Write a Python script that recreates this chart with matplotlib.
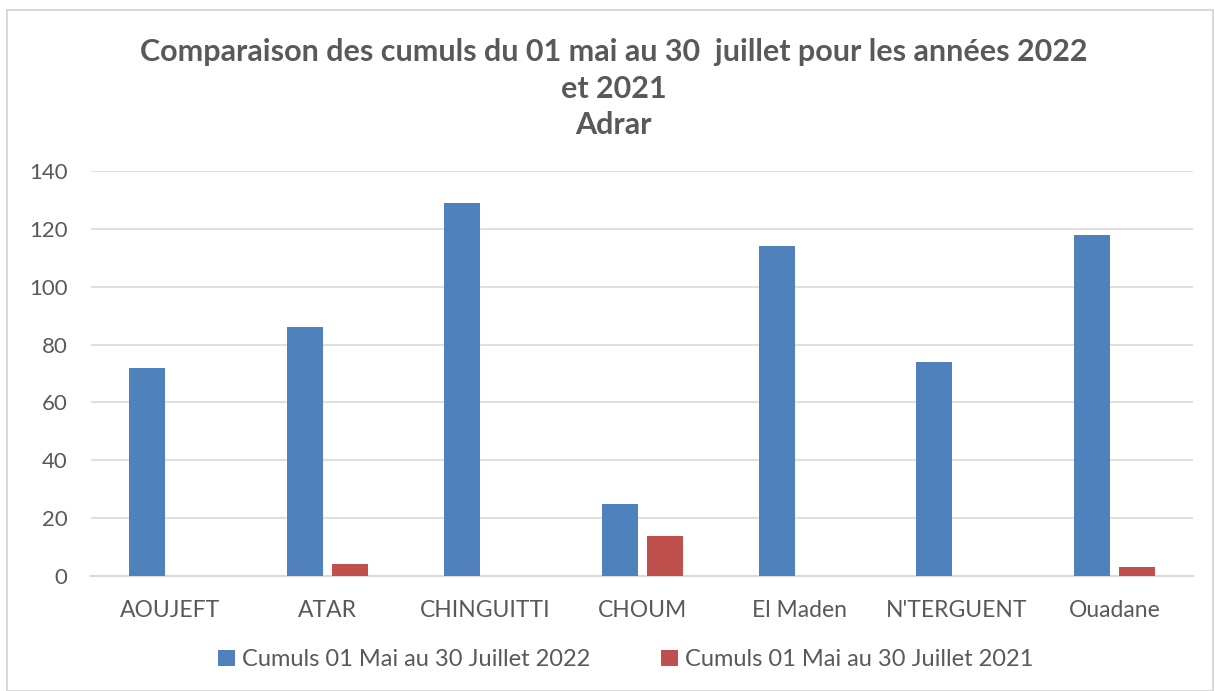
import numpy as np
import matplotlib
matplotlib.use("Agg")
import matplotlib.pyplot as plt
from matplotlib.patches import Rectangle

plt.rcParams['font.family'] = ['Lato', 'DejaVu Sans']

stations = ["AOUJEFT", "ATAR", "CHINGUITTI", "CHOUM", "El Maden", "N'TERGUENT", "Ouadane"]
cumul_2022 = [72, 86, 129, 25, 114, 74, 118]
cumul_2021 = [0, 4, 0, 14, 0, 0, 3]
label_2022 = "Cumuls 01 Mai au 30 Juillet 2022"
label_2021 = "Cumuls 01 Mai au 30 Juillet 2021"
title = "Comparaison des cumuls du 01 mai au 30  juillet pour les années 2022\net 2021\nAdrar"

gray = "#595959"
fig = plt.figure(figsize=(12.15, 6.91), dpi=100)
fig.patches.append(Rectangle((0.006, 0.0), 0.992, 0.985, transform=fig.transFigure,
                             fill=False, edgecolor="#d9d9d9", lw=1.5))

ax = fig.add_axes([0.075, 0.1664, 0.907, 0.5861])
x = np.arange(len(stations))
w = 0.229
off = 0.143
ax.bar(x - off, cumul_2022, w, color="#4f81bd", label=label_2022, zorder=3)
ax.bar(x + off, cumul_2021, w, color="#c0504d", label=label_2021, zorder=3)

ax.set_xlim(-0.5, len(stations) - 0.5)
ax.set_ylim(0, 140)
ax.set_yticks(range(0, 141, 20))
ax.set_xticks(x)
ax.set_xticklabels(stations)
ax.grid(axis="y", color="#d9d9d9", lw=1.2, zorder=0)
for s in ["top", "right", "left"]:
    ax.spines[s].set_visible(False)
ax.spines["bottom"].set_color("#d9d9d9")
ax.spines["bottom"].set_linewidth(1.5)
ax.tick_params(axis="x", length=0, labelsize=16.5, colors=gray, pad=17)
ax.tick_params(axis="y", length=0, labelsize=16, colors=gray, pad=17)

fig.text(0.505, 0.945, title, ha="center", va="top", fontsize=22, fontweight="bold",
         color=gray, linespacing=1.38)

fig.legend(loc="center", bbox_to_anchor=(0.515, 0.045), ncol=2, frameon=False,
           fontsize=17, labelcolor=gray, handlelength=0.7, handleheight=0.7,
           handletextpad=0.3, columnspacing=3.0)

plt.savefig("out.png", dpi=100)
